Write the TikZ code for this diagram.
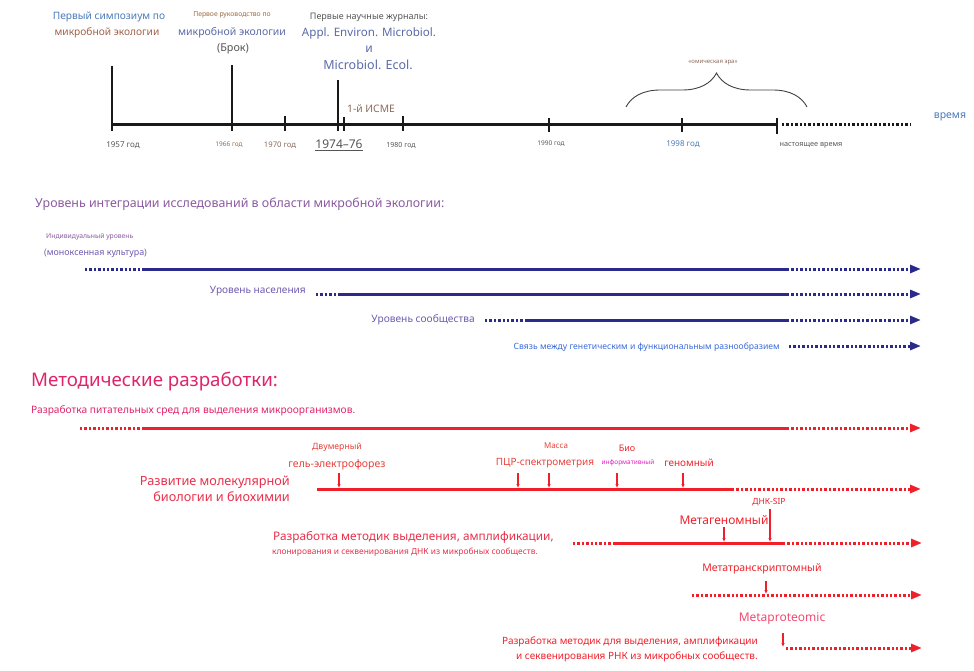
\documentclass[tikz,border=0pt]{standalone}
\usepackage{fontspec}
\setmainfont{Noto Sans}
\usetikzlibrary{arrows.meta, decorations.pathreplacing}

\definecolor{symblue}{HTML}{4A7AB8}
\definecolor{symbrown}{HTML}{A0604A}
\definecolor{guidebrown}{HTML}{9A6A40}
\definecolor{slate}{HTML}{5A6AA8}
\definecolor{darkgray}{HTML}{555555}
\definecolor{icme}{HTML}{8A6A5A}
\definecolor{purp}{HTML}{8A5AA0}
\definecolor{lvl}{HTML}{6E5AB0}
\definecolor{navy}{HTML}{2A2A8C}
\definecolor{linkblue}{HTML}{3A6AD8}
\definecolor{crimson}{HTML}{E0246A}
\definecolor{pinkred}{HTML}{E8304A}
\definecolor{lred}{HTML}{F0202A}
\definecolor{orred}{HTML}{E8403A}
\definecolor{magen}{HTML}{E020C0}
\definecolor{mprot}{HTML}{F04A70}

\newcommand{\fsz}[2]{\fontsize{#1}{#2}\selectfont}

\tikzset{
  axisline/.style={line width=3pt, black!90},
  tickline/.style={line width=2.6pt, black!90},
  dotline/.style={line width=3pt, dash pattern=on 2.4pt off 2pt},
  solidline/.style={line width=3pt},
  tipend/.style={-{Triangle[length=11pt,width=8pt]}},
  downarr/.style={lred, line width=1.3pt, -{Latex[length=4pt,width=3.5pt]}}
}

\begin{document}
\begin{tikzpicture}[x=1pt, y=-1pt, every node/.style={inner sep=0pt}]
  \useasboundingbox (0,0) rectangle (974,671);

  % time axis
  \coordinate (ax0) at (112,125);
  \coordinate (ax1) at (778,125);
  \coordinate (ax2) at (911,125);
  \draw[axisline] (ax0) -- (ax1);
  \draw[dotline, black!90] (782,125) -- (ax2);
  \node[text=symblue, font=\fsz{10.5}{12}] (vremya) at (950,117) {время};

  % ticks
  \draw[tickline] (112,131) -- (112,66);
  \draw[tickline] (232,131) -- (232,65);
  \draw[tickline] (285,131) -- (285,116);
  \draw[tickline] (338,131) -- (338,80);
  \draw[tickline] (344,131) -- (344,117);
  \draw[tickline] (403,131) -- (403,116);
  \draw[tickline] (549,132) -- (549,118);
  \draw[tickline] (682,132) -- (682,118);
  \draw[tickline] (777,134) -- (777,118);

  % years
  \node[text=darkgray, font=\fsz{8}{9}] (y57) at (123,145) {1957 год};
  \node[text=guidebrown, font=\fsz{6.5}{8}] (y66) at (229,145) {1966 год};
  \node[text=icme, font=\fsz{7.7}{9}] (y70) at (280,145) {1970 год};
  \node[text=darkgray, font=\fsz{12}{14}] (y74) at (339,145) {\underline{1974–76}};
  \node[text=darkgray, font=\fsz{7}{8}] (y80) at (401,145) {1980 год};
  \node[text=darkgray, font=\fsz{6.5}{8}] (y90) at (551,144) {1990 год};
  \node[text=symblue, font=\fsz{8}{9}] (y98) at (683,144) {1998 год};
  \node[text=darkgray, font=\fsz{7.3}{8}] (ynow) at (811,145) {настоящее время};
  \node[text=icme, font=\fsz{10.3}{12}] (icme) at (371,109) {1-й ИСМЕ};

  % events
  \node[text=symblue, font=\fsz{10.2}{12}] (symp1) at (109,17) {Первый симпозиум по};
  \node[text=symbrown, font=\fsz{10.2}{12}] (symp2) at (107,33) {микробной экологии};
  \node[text=guidebrown, font=\fsz{6.8}{8}] (brock1) at (232,15) {Первое руководство по};
  \node[text=slate, font=\fsz{10.5}{12}] (brock2) at (232,33) {микробной экологии};
  \node[text=darkgray, font=\fsz{10.8}{13}] (brock3) at (233,49) {(Брок)};
  \node[text=darkgray, font=\fsz{9}{11}] (jour1) at (369,17) {Первые научные журналы:};
  \node[text=slate, font=\fsz{11.6}{14}] (jour2) at (369,33) {Appl. Environ. Microbiol.};
  \node[text=slate, font=\fsz{12}{14}] (jour3) at (369,49) {и};
  \node[text=slate, font=\fsz{12.5}{14}] (jour4) at (368,65) {Microbiol. Ecol.};

  % omics era
  \coordinate (brA) at (626,107);
  \coordinate (brB) at (807,107);
  \draw[black!75, line width=0.9pt, decorate, decoration={brace, amplitude=34pt}] (brA) -- (brB);
  \node[text=icme, font=\fsz{6}{7}] (omics) at (713,63) {«омическая эра»};

  % integration levels
  \node[anchor=west, text=purp, font=\fsz{12.4}{14}] (intg) at (35,204)
    {Уровень интеграции исследований в области микробной экологии:};
  \node[anchor=west, text=purp, font=\fsz{6.8}{8}] (ind1) at (46,237) {Индивидуальный уровень};
  \node[anchor=west, text=lvl, font=\fsz{8.9}{10}] (ind2) at (44,253) {(моноксенная культура)};
  \node[anchor=east, text=lvl, font=\fsz{10.1}{12}] (pop) at (306,291) {Уровень населения};
  \node[anchor=east, text=lvl, font=\fsz{10.2}{12}] (comm) at (475,320) {Уровень сообщества};
  \node[anchor=east, text=linkblue, font=\fsz{8.6}{10}] (link) at (780,347)
    {Связь между генетическим и функциональным разнообразием};

  \coordinate (i0) at (85,269);  \coordinate (i1) at (143,269);
  \coordinate (i2) at (787,269); \coordinate (i3) at (921,269);
  \draw[dotline, navy] (i0) -- (i1);
  \draw[solidline, navy] (i1) -- (i2);
  \draw[dotline, navy, tipend] (i2) -- (i3);

  \coordinate (p0) at (316,294); \coordinate (p1) at (338,294);
  \coordinate (p2) at (787,294); \coordinate (p3) at (921,294);
  \draw[dotline, navy] (p0) -- (p1);
  \draw[solidline, navy] (p1) -- (p2);
  \draw[dotline, navy, tipend] (p2) -- (p3);

  \coordinate (c0) at (485,320); \coordinate (c1) at (525,320);
  \coordinate (c2) at (787,320); \coordinate (c3) at (921,320);
  \draw[dotline, navy] (c0) -- (c1);
  \draw[solidline, navy] (c1) -- (c2);
  \draw[dotline, navy, tipend] (c2) -- (c3);

  \coordinate (g0) at (789,346); \coordinate (g1) at (921,346);
  \draw[dotline, navy, tipend] (g0) -- (g1);

  % methods
  \node[anchor=west, text=crimson, font=\fsz{18.7}{21}] (meth) at (31,382) {Методические разработки:};
  \node[anchor=west, text=crimson, font=\fsz{10.2}{12}] (media) at (31,411)
    {Разработка питательных сред для выделения микроорганизмов.};

  \coordinate (m0) at (80,428);  \coordinate (m1) at (143,428);
  \coordinate (m2) at (787,428); \coordinate (m3) at (921,428);
  \draw[dotline, lred] (m0) -- (m1);
  \draw[solidline, lred] (m1) -- (m2);
  \draw[dotline, lred, tipend] (m2) -- (m3);

  % molecular biology
  \node[anchor=east, align=right, text=pinkred, font=\fsz{12.7}{16}] (molbio) at (290,489)
    {Развитие молекулярной\\биологии и биохимии};
  \node[text=orred, font=\fsz{8.7}{10}] (gel1) at (337,447) {Двумерный};
  \node[text=orred, font=\fsz{10.5}{12}] (gel2) at (337,465) {гель-электрофорез};
  \node[text=orred, font=\fsz{8}{9}] (mass1) at (556,446) {Масса};
  \node[text=orred, font=\fsz{10}{11}] (mass2) at (545,463) {ПЦР-спектрометрия};
  \node[text=lred, font=\fsz{9}{10}] (bio1) at (627,448) {Био};
  \node[text=magen, font=\fsz{6.5}{7}] (bio2) at (628,463) {информативный};
  \node[text=lred, font=\fsz{10}{11}] (bio3) at (689,463) {геномный};

  \coordinate (b0) at (317,489); \coordinate (b1) at (732,489);
  \coordinate (b2) at (921,489);
  \draw[solidline, lred] (b0) -- (b1);
  \draw[dotline, lred, tipend] (b1) -- (b2);

  \draw[downarr] (339,473) -- (339,488);
  \draw[downarr] (518,473) -- (518,488);
  \draw[downarr] (549,473) -- (549,488);
  \draw[downarr] (617,473) -- (617,488);
  \draw[downarr] (683,473) -- (683,488);

  % DNA methods
  \node[anchor=west, text=pinkred, font=\fsz{11.8}{14}] (dna1) at (273,537)
    {Разработка методик выделения, амплификации,};
  \node[anchor=west, text=pinkred, font=\fsz{8.4}{9}] (dna2) at (272,552)
    {клонирования и секвенирования ДНК из микробных сообществ.};
  \node[text=lred, font=\fsz{8.5}{10}] (sip) at (769,502) {ДНК-SIP};
  \node[text=lred, font=\fsz{12}{14}] (metag) at (724,520) {Метагеномный};

  \coordinate (d0) at (573,543); \coordinate (d1) at (615,543);
  \coordinate (d2) at (783,543); \coordinate (d3) at (922,543);
  \draw[dotline, lred] (d0) -- (d1);
  \draw[solidline, lred] (d1) -- (d2);
  \draw[dotline, lred, tipend] (d2) -- (d3);
  \draw[downarr] (724,527) -- (724,542);
  \draw[downarr] (770,509) -- (770,542);

  % RNA methods
  \node[text=lred, font=\fsz{10.5}{12}] (metat) at (762,569) {Метатранскриптомный};
  \coordinate (r0) at (692,595); \coordinate (r1) at (922,595);
  \draw[dotline, lred, tipend] (r0) -- (r1);
  \draw[downarr] (766,581) -- (766,594);

  \node[text=mprot, font=\fsz{12}{14}] (metap) at (782,619) {Metaproteomic};
  \node[anchor=east, align=right, text=lred, font=\fsz{10}{15}] (rna) at (758,649)
    {Разработка методик для выделения, амплификации\\и секвенирования РНК из микробных сообществ.};
  \coordinate (q0) at (786,648); \coordinate (q1) at (922,648);
  \draw[dotline, lred, tipend] (q0) -- (q1);
  \draw[downarr] (783,633) -- (783,647);

\end{tikzpicture}
\end{document}
